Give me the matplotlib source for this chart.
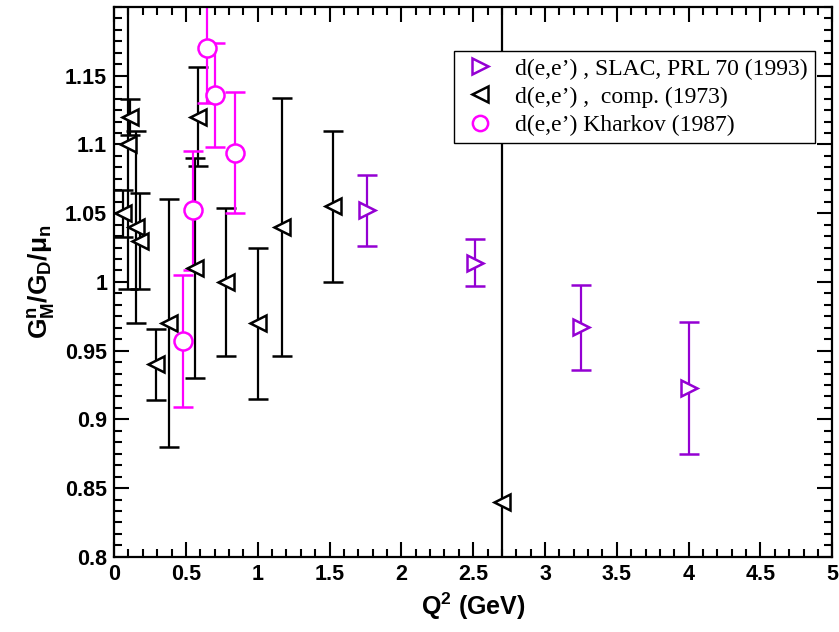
import numpy as np
import matplotlib.pyplot as plt
from matplotlib.ticker import MultipleLocator, AutoMinorLocator
from matplotlib.lines import Line2D

plt.rcParams['mathtext.fontset'] = 'custom'
plt.rcParams['mathtext.rm'] = 'Liberation Sans'
plt.rcParams['mathtext.bf'] = 'Liberation Sans:bold'

# d(e,e') SLAC, PRL 70 (1993)
slac_q2 = [1.76, 2.51, 3.25, 4.0]
slac_g = [1.052, 1.014, 0.967, 0.923]
slac_err = [0.026, 0.017, 0.031, 0.048]

# d(e,e') comp. (1973)
comp_q2 = [0.06, 0.10, 0.11, 0.15, 0.18, 0.29, 0.38, 0.56, 0.585, 0.78, 1.0, 1.17, 1.525, 2.70]
comp_g = [1.05, 1.10, 1.12, 1.04, 1.03, 0.94, 0.97, 1.01, 1.12, 1.00, 0.97, 1.04, 1.055, 0.84]
comp_err = [0.017, 0.105, 0.013, 0.07, 0.035, 0.026, 0.09, 0.08, 0.036, 0.054, 0.055, 0.094, 0.055, 0.5]

# d(e,e') Kharkov (1987)
khar_q2 = [0.48, 0.55, 0.65, 0.70, 0.843]
khar_g = [0.957, 1.052, 1.170, 1.136, 1.094]
khar_err = [0.048, 0.043, 0.04, 0.038, 0.044]

purple = '#9400d3'
magenta = '#ff00ff'

fig = plt.figure(figsize=(8.39, 6.32), dpi=100)
ax = fig.add_axes([0.136, 0.119, 0.856, 0.870])

ax.errorbar(slac_q2, slac_g, yerr=slac_err, fmt='>', color=purple, mfc='white',
            mec=purple, ms=11, mew=1.8, elinewidth=1.6, capsize=7, capthick=1.6)
ax.errorbar(comp_q2, comp_g, yerr=comp_err, fmt='<', color='black', mfc='white',
            mec='black', ms=11, mew=1.8, elinewidth=1.6, capsize=7, capthick=1.6)
ax.errorbar(khar_q2, khar_g, yerr=khar_err, fmt='o', color=magenta, mfc='white',
            mec=magenta, ms=13, mew=1.8, elinewidth=1.6, capsize=7, capthick=1.6)

ax.set_xlim(0, 5)
ax.set_ylim(0.8, 1.2)
ax.xaxis.set_minor_locator(AutoMinorLocator(5))
ax.set_yticks([0.8, 0.85, 0.9, 0.95, 1.0, 1.05, 1.1, 1.15])
ax.set_yticklabels(['0.8', '0.85', '0.9', '0.95', '1', '1.05', '1.1', '1.15'])
ax.set_xticks([0, 0.5, 1, 1.5, 2, 2.5, 3, 3.5, 4, 4.5, 5])
ax.set_xticklabels(['0', '0.5', '1', '1.5', '2', '2.5', '3', '3.5', '4', '4.5', '5'])
ax.yaxis.set_minor_locator(MultipleLocator(0.05 / 6))

ax.tick_params(which='both', direction='in', top=True, right=True, width=1.5)
ax.tick_params(which='major', length=11, pad=5)
ax.tick_params(which='minor', length=5.5)
for lab in ax.get_xticklabels() + ax.get_yticklabels():
    lab.set_fontfamily('Liberation Sans')
    lab.set_fontweight('bold')
    lab.set_fontsize(15.5)
for s in ax.spines.values():
    s.set_linewidth(1.6)

ax.set_xlabel(r'$\mathbf{Q^2}$ (GeV)', fontsize=18, fontweight='bold',
              fontfamily='Liberation Sans', labelpad=4)
ax.set_ylabel(r'$\mathbf{G^n_M/G_D/}$' + r'$\mathbf{\mu_n}$', fontsize=19,
              fontfamily='Liberation Sans', labelpad=6)

handles = [
    Line2D([], [], ls='none', marker='>', ms=11, mew=1.8, mfc='white', mec=purple),
    Line2D([], [], ls='none', marker='<', ms=11, mew=1.8, mfc='white', mec='black'),
    Line2D([], [], ls='none', marker='o', ms=11, mew=1.8, mfc='white', mec=magenta),
]
labels = ["d(e,e\u2019) , SLAC, PRL 70 (1993)",
          "d(e,e\u2019) ,  comp. (1973)",
          "d(e,e\u2019) Kharkov (1987)"]
leg = ax.legend(handles, labels, loc='upper right', bbox_to_anchor=(0.976, 0.92),
                prop={'family': 'Liberation Serif', 'size': 17}, frameon=True,
                fancybox=False, edgecolor='black', framealpha=1, borderpad=0.3,
                labelspacing=0.28, handletextpad=0.7, handlelength=1.6, borderaxespad=0)
leg.get_frame().set_linewidth(1.0)

fig.savefig('out.png', dpi=100)
